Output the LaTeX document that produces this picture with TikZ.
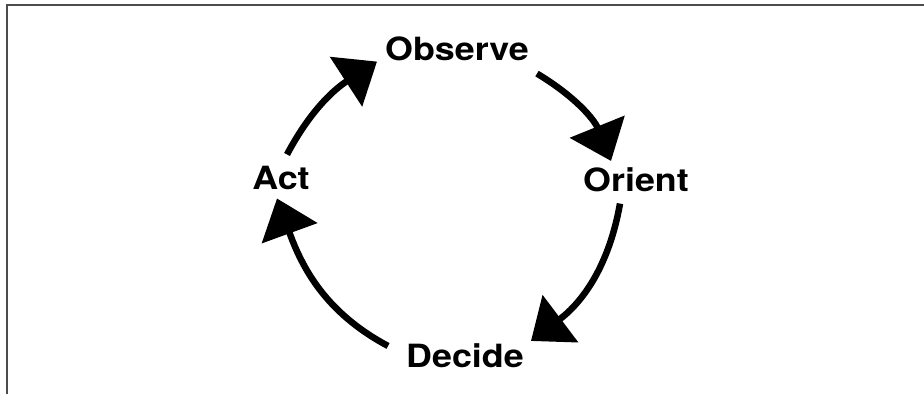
\documentclass[tikz,border=0pt]{standalone}
\usepackage{fontspec}
\setmainfont{TeX Gyre Heros}
\usepackage{graphicx}
\usetikzlibrary{arrows.meta}
\newcommand{\stagetext}[1]{\scalebox{1.12}[1]{#1}}

\begin{document}
\begin{tikzpicture}[x=1pt, y=1pt,
    stage/.style={anchor=base, inner sep=0pt, font=\fontsize{32}{32}\selectfont\bfseries},
    arr/.style={-{Triangle[length=37pt, width=58pt]}, line width=6.5pt},
    frame/.style={draw=black!70, line width=1.4pt}
]
    \useasboundingbox (0,0) rectangle (924,394);
    \draw[frame] (7,0) -- (7,389) -- (924,389);

    \node[stage] (obs) at (457,333) {\stagetext{Observe}};
    \node[stage] (ori) at (636,202) {\stagetext{Orient}};
    \node[stage] (dec) at (465,27) {\stagetext{Decide}};
    \node[stage] (act) at (281,204) {\stagetext{Act}};

    \draw[arr] ([shift={(6,12)}]act.north) to[out=62, in=213] ([xshift=-8pt]obs.south west);
    \draw[arr] ([shift={(8,-12)}]obs.south east) to[out=-31, in=112] ([shift={(28,7)}]ori.north west);
    \draw[arr] ([shift={(-16,-11)}]ori.south) to[out=260, in=37] ([shift={(7,2)}]dec.north east);
    \draw[arr] ([shift={(-18,-3)}]dec.north west) to[out=152, in=290] ([shift={(-4,-8)}]act.south);
\end{tikzpicture}
\end{document}
